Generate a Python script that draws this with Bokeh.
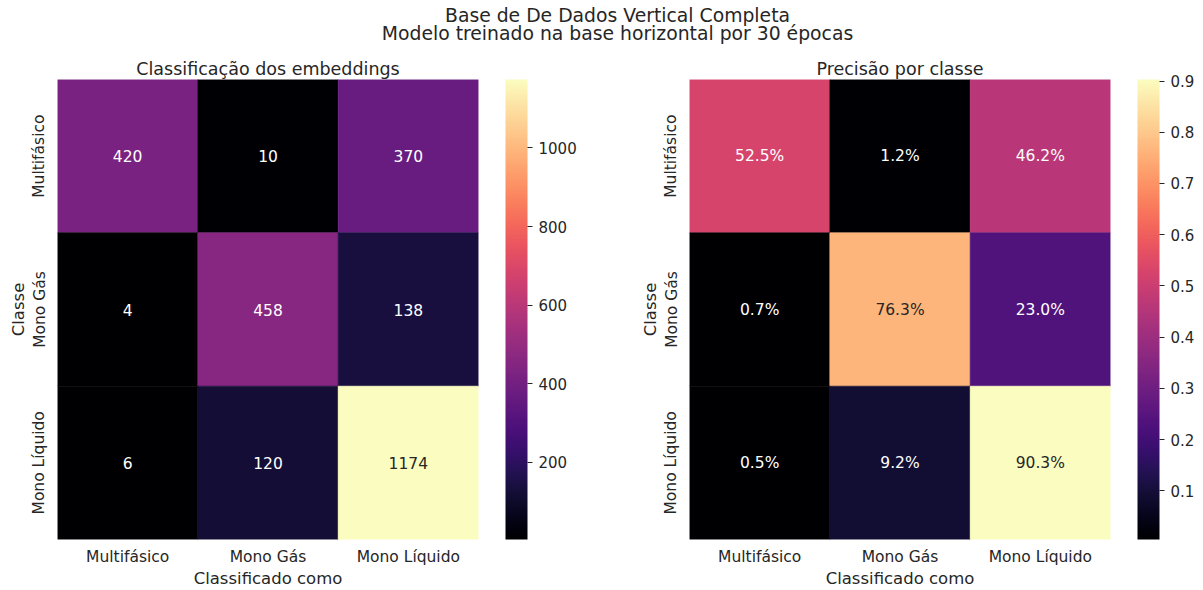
from bokeh.plotting import figure
from bokeh.models import (LinearColorMapper, ColorBar, FixedTicker, FactorRange,
                          ColumnDataSource, Range1d)
from bokeh.layouts import column, row
from bokeh.palettes import Magma256
from bokeh.core.properties import value
from bokeh.embed import file_html
from bokeh.resources import INLINE

# ---------------- data ----------------
suptitle_1 = "Base de De Dados Vertical Completa"
suptitle_2 = "Modelo treinado na base horizontal por 30 épocas"
title_left = "Classificação dos embeddings"
title_right = "Precisão por classe"
x_label = "Classificado como"
y_label = "Classe"

classes = ["Multifásico", "Mono Gás", "Mono Líquido"]

# counts: rows = true class, columns = predicted class
counts_multifasico = [420, 10, 370]
counts_mono_gas = [4, 458, 138]
counts_mono_liquido = [6, 120, 1174]

# precision per class (percent)
prec_multifasico = [52.5, 1.2, 46.2]
prec_mono_gas = [0.7, 76.3, 23.0]
prec_mono_liquido = [0.5, 9.2, 90.3]

count_ticks = [200, 400, 600, 800, 1000]
prec_ticks = [0.1, 0.2, 0.3, 0.4, 0.5, 0.6, 0.7, 0.8, 0.9]

# ---------------- style ----------------
FONT = "DejaVu Sans"
DARK = "#262626"
TICK_FS = "15.5px"
LABEL_FS = "16.5px"
TITLE_FS = "17.5px"
SUP_FS = "18.8px"
ANNOT_FS = "15.5px"
CB_FS = "15px"

TOP_H = 46
ROW_H = 544


def luminance(hexcol):
    h = hexcol.lstrip("#")
    rgb = [int(h[i:i + 2], 16) / 255 for i in (0, 2, 4)]
    lin = [c / 12.92 if c <= 0.03928 else ((c + 0.055) / 1.055) ** 2.4 for c in rgb]
    return 0.2126 * lin[0] + 0.7152 * lin[1] + 0.0722 * lin[2]


def color_for(v, lo, hi):
    t = (v - lo) / (hi - lo)
    idx = min(255, max(0, int(t * 256)))
    return Magma256[idx]


def build_source(rows, fmt, scale):
    xs, ys, vals, labels, tcols = [], [], [], [], []
    flat = [v * scale for r in rows for v in r]
    lo, hi = min(flat), max(flat)
    for true_cls, r in zip(classes, rows):
        for pred_cls, v in zip(classes, r):
            vv = v * scale
            xs.append(pred_cls)
            ys.append(true_cls)
            vals.append(vv)
            labels.append(fmt(v))
            tcols.append(DARK if luminance(color_for(vv, lo, hi)) > 0.408 else "#ffffff")
    return ColumnDataSource(dict(x=xs, y=ys, val=vals, label=labels, tcol=tcols)), lo, hi


def heatmap(rows, fmt, scale, ticks, title, width, border_left, border_right):
    src, lo, hi = build_source(rows, fmt, scale)
    mapper = LinearColorMapper(palette=Magma256, low=lo, high=hi)
    p = figure(width=width, height=ROW_H,
               x_range=FactorRange(*classes),
               y_range=FactorRange(*list(reversed(classes))),
               toolbar_location=None, output_backend="svg",
               min_border_left=border_left, min_border_right=border_right,
               min_border_top=33, min_border_bottom=50)
    p.rect(x="x", y="y", width=1, height=1, source=src,
           fill_color={"field": "val", "transform": mapper},
           line_color={"field": "val", "transform": mapper}, line_width=0.6)
    p.text(x="x", y="y", text="label", source=src, text_align="center",
           text_baseline="middle", text_color="tcol",
           text_font=value(FONT), text_font_size=ANNOT_FS)
    p.title.text = title
    p.title.align = "center"
    p.title.text_font = FONT
    p.title.text_font_size = TITLE_FS
    p.title.text_font_style = "normal"
    p.title.text_color = DARK
    p.title.standoff = 2
    p.grid.visible = False
    p.outline_line_color = None
    p.background_fill_color = "white"
    for ax in (p.xaxis, p.yaxis):
        ax.axis_line_color = None
        ax.major_tick_line_color = None
        ax.minor_tick_line_color = None
        ax.major_tick_out = 0
        ax.major_tick_in = 0
        ax.minor_tick_out = 0
        ax.minor_tick_in = 0
        ax.major_label_text_font = FONT
        ax.major_label_text_font_size = TICK_FS
        ax.major_label_text_color = DARK
        ax.axis_label_text_font = FONT
        ax.axis_label_text_font_size = LABEL_FS
        ax.axis_label_text_font_style = "normal"
        ax.axis_label_text_color = DARK
        ax.axis_label_standoff = 0
        ax.major_label_standoff = 8
    p.xaxis.axis_label = x_label
    p.yaxis.axis_label = y_label
    p.yaxis.major_label_orientation = "vertical"
    p.yaxis.major_label_standoff = 9

    cb = ColorBar(color_mapper=mapper, ticker=FixedTicker(ticks=ticks),
                  width=22, padding=0, margin=0, location=(27, 0),
                  major_tick_out=5, major_tick_in=0,
                  major_tick_line_color=DARK, minor_tick_line_color=None,
                  label_standoff=6, bar_line_color=None,
                  border_line_color=None, background_fill_alpha=0,
                  major_label_text_font=FONT, major_label_text_font_size=CB_FS,
                  major_label_text_color=DARK)
    p.add_layout(cb, "right")
    return p


p_left = heatmap([counts_multifasico, counts_mono_gas, counts_mono_liquido],
                 lambda v: f"{v:d}", 1, count_ticks, title_left, 600, 57, 122)
p_right = heatmap([prec_multifasico, prec_mono_gas, prec_mono_liquido],
                  lambda v: f"{v:.1f}%", 0.01, prec_ticks, title_right, 603, 89, 93)

# suptitle panel
top = figure(width=1203, height=TOP_H, x_range=Range1d(0, 1203), y_range=Range1d(TOP_H, 0),
             toolbar_location=None, output_backend="svg", min_border=0)
top.axis.visible = False
top.grid.visible = False
top.outline_line_color = None
top.text(x=[617, 617], y=[15, 33], text=[suptitle_1, suptitle_2],
         text_align="center", text_baseline="middle", text_color=DARK,
         text_font=value(FONT), text_font_size=SUP_FS)

layout = column(top, row(p_left, p_right, spacing=0), spacing=0)

open("out.html", "w").write(file_html(layout, INLINE))
